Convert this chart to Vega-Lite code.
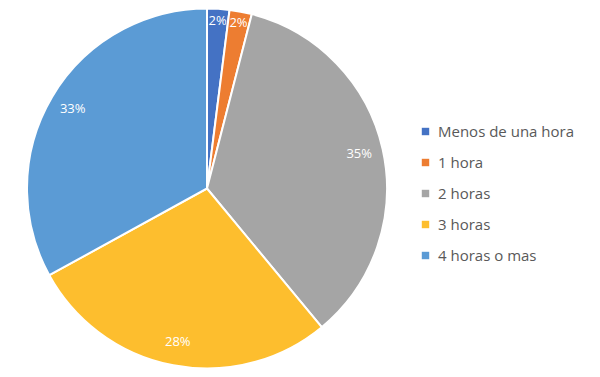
{
  "$schema": "https://vega.github.io/schema/vega-lite/v6.json",
  "width": 414,
  "height": 377,
  "padding": 0,
  "background": "white",
  "config": {"view": {"stroke": null}},
  "data": {
    "values": [
      {"cat": "Menos de una hora", "pct": 0.02, "ord": 1},
      {"cat": "1 hora", "pct": 0.02, "ord": 2},
      {"cat": "2 horas", "pct": 0.35, "ord": 3},
      {"cat": "3 horas", "pct": 0.28, "ord": 4},
      {"cat": "4 horas o mas", "pct": 0.33, "ord": 5}
    ]
  },
  "encoding": {
    "theta": {"field": "pct", "type": "quantitative", "stack": true},
    "order": {"field": "ord", "type": "quantitative"},
    "color": {
      "field": "cat",
      "type": "nominal",
      "sort": ["Menos de una hora", "1 hora", "2 horas", "3 horas", "4 horas o mas"],
      "scale": {
        "domain": ["Menos de una hora", "1 hora", "2 horas", "3 horas", "4 horas o mas"],
        "range": ["#4472C4", "#ED7D31", "#A5A5A5", "#FDBE2E", "#5B9BD5"]
      },
      "legend": {
        "title": null,
        "orient": "none",
        "legendX": 418,
        "legendY": 124,
        "symbolType": "square",
        "symbolSize": 55,
        "symbolStrokeWidth": 0,
        "labelFontSize": 15,
        "labelFont": "Open Sans",
        "labelColor": "#595959",
        "labelOffset": 5,
        "rowPadding": 15
      }
    }
  },
  "layer": [
    {
      "mark": {"type": "arc", "outerRadius": 180, "stroke": "white", "strokeWidth": 2}
    },
    {
      "mark": {"type": "text", "radius": 156, "color": "white", "fontSize": 13, "font": "Open Sans"},
      "encoding": {
        "text": {"field": "pct", "type": "quantitative", "format": ".0%"},
        "color": {"value": "white"},
        "opacity": {"condition": {"test": "datum.pct > 0.05", "value": 1}, "value": 0}
      }
    },
    {
      "mark": {"type": "text", "radius": 168, "color": "white", "fontSize": 13, "font": "Open Sans"},
      "encoding": {
        "text": {"field": "pct", "type": "quantitative", "format": ".0%"},
        "color": {"value": "white"},
        "opacity": {"condition": {"test": "datum.pct <= 0.05", "value": 1}, "value": 0}
      }
    }
  ]
}
